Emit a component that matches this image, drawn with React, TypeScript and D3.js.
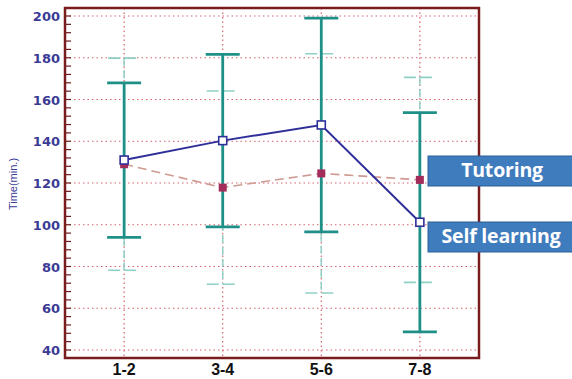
import React, { useEffect, useRef } from 'react';
import * as d3 from 'd3';

const categories = ['1-2', '3-4', '5-6', '7-8'];
const selfMean = [131, 140.3, 147.8, 101.2];
const selfSd = [37, 41.3, 51.2, 52.5];
const tutorMean = [129, 117.8, 124.6, 121.5];
const tutorSd = [50.8, 46.3, 57.3, 49.1];
const yTicks = [40, 60, 80, 100, 120, 140, 160, 180, 200];
const legendLabels = ['Tutoring', 'Self learning'];

const App = () => {
  const ref = useRef<SVGSVGElement | null>(null);

  useEffect(() => {
    if (!ref.current) return;
    const width = 572;
    const height = 379;
    const left = 65, right = 479, top = 8, bottom = 358;

    const svg = d3.select(ref.current);
    svg.selectAll('*').remove();
    svg.append('rect').attr('width', width).attr('height', height).attr('fill', '#ffffff');

    const x = d3.scalePoint<string>().domain(categories).range([left, right]).padding(0.6);
    const y = d3.scaleLinear().domain([40, 200]).range([350, 16]);

    const gridColor = '#d4636f';
    // horizontal grid
    svg.append('g')
      .selectAll('line')
      .data(yTicks)
      .enter()
      .append('line')
      .attr('x1', left).attr('x2', right)
      .attr('y1', d => y(d)).attr('y2', d => y(d))
      .attr('stroke', gridColor)
      .attr('stroke-width', 1.2)
      .attr('stroke-dasharray', '1.5,3');
    // vertical grid
    svg.append('g')
      .selectAll('line')
      .data(categories)
      .enter()
      .append('line')
      .attr('x1', d => x(d)!).attr('x2', d => x(d)!)
      .attr('y1', top).attr('y2', bottom)
      .attr('stroke', gridColor)
      .attr('stroke-width', 1.2)
      .attr('stroke-dasharray', '1.5,3');

    // minor ticks every 4 units, inward
    const minor = d3.range(40, 201, 4);
    svg.append('g')
      .selectAll('line')
      .data(minor)
      .enter()
      .append('line')
      .attr('x1', left).attr('x2', left + 6)
      .attr('y1', d => y(d)).attr('y2', d => y(d))
      .attr('stroke', '#6b1a1a')
      .attr('stroke-width', 1.2);

    // y tick labels
    svg.append('g')
      .selectAll('text')
      .data(yTicks)
      .enter()
      .append('text')
      .attr('x', 60)
      .attr('y', d => y(d) + 5)
      .attr('text-anchor', 'end')
      .style('font-family', 'DejaVu Sans, sans-serif')
      .style('font-weight', 'bold')
      .style('font-size', '13px')
      .attr('fill', '#3b3b96')
      .text(d => d);

    // x tick labels
    svg.append('g')
      .selectAll('text')
      .data(categories)
      .enter()
      .append('text')
      .attr('x', d => x(d)!)
      .attr('y', 375)
      .attr('text-anchor', 'middle')
      .style('font-family', 'Arial, Liberation Sans, sans-serif')
      .style('font-weight', 'bold')
      .style('font-size', '16px')
      .attr('fill', '#111')
      .text(d => d);

    // y title
    svg.append('text')
      .attr('transform', `translate(17, 184) rotate(-90)`)
      .attr('text-anchor', 'middle')
      .style('font-family', 'Arial, Liberation Sans, sans-serif')
      .style('font-size', '11px')
      .attr('fill', '#3b3b96')
      .text('Time(min.)');

    // tutoring error bars (light, dashed)
    const tut = categories.map((c, i) => ({ c, m: tutorMean[i], s: tutorSd[i] }));
    const slf = categories.map((c, i) => ({ c, m: selfMean[i], s: selfSd[i] }));

    const tg = svg.append('g');
    tg.selectAll('line.v')
      .data(tut)
      .enter()
      .append('line')
      .attr('x1', d => x(d.c)!).attr('x2', d => x(d.c)!)
      .attr('y1', d => y(d.m + d.s)).attr('y2', d => y(d.m - d.s))
      .attr('stroke', '#8fd0c6')
      .attr('stroke-width', 1.5)
      .attr('stroke-dasharray', '8,4');
    [1, -1].forEach(sign => {
      tg.selectAll(`line.c${sign}`)
        .data(tut)
        .enter()
        .append('line')
        .attr('x1', d => x(d.c)! - 16).attr('x2', d => x(d.c)! + 16)
        .attr('y1', d => y(d.m + sign * d.s)).attr('y2', d => y(d.m + sign * d.s))
        .attr('stroke', '#8fd0c6')
        .attr('stroke-width', 1.6)
        .attr('stroke-dasharray', '12,4');
    });

    // self learning error bars (solid teal)
    const sg = svg.append('g');
    sg.selectAll('line.v')
      .data(slf)
      .enter()
      .append('line')
      .attr('x1', d => x(d.c)!).attr('x2', d => x(d.c)!)
      .attr('y1', d => y(d.m + d.s)).attr('y2', d => y(d.m - d.s))
      .attr('stroke', '#1f9087')
      .attr('stroke-width', 2.8);
    [1, -1].forEach(sign => {
      sg.selectAll(`line.c${sign}`)
        .data(slf)
        .enter()
        .append('line')
        .attr('x1', d => x(d.c)! - 17).attr('x2', d => x(d.c)! + 17)
        .attr('y1', d => y(d.m + sign * d.s)).attr('y2', d => y(d.m + sign * d.s))
        .attr('stroke', '#1f9087')
        .attr('stroke-width', 2.8);
    });

    // tutoring line
    const line = d3.line<{ c: string; m: number }>().x(d => x(d.c)!).y(d => y(d.m));
    svg.append('path')
      .datum(tut)
      .attr('d', line)
      .attr('fill', 'none')
      .attr('stroke', '#cf9a92')
      .attr('stroke-width', 1.6)
      .attr('stroke-dasharray', '9,5');
    svg.append('g')
      .selectAll('rect')
      .data(tut)
      .enter()
      .append('rect')
      .attr('x', d => x(d.c)! - 4).attr('y', d => y(d.m) - 4)
      .attr('width', 8).attr('height', 8)
      .attr('fill', '#a32c5a');

    // self learning line
    svg.append('path')
      .datum(slf)
      .attr('d', line)
      .attr('fill', 'none')
      .attr('stroke', '#2f2f99')
      .attr('stroke-width', 2);
    svg.append('g')
      .selectAll('rect')
      .data(slf)
      .enter()
      .append('rect')
      .attr('x', d => x(d.c)! - 4).attr('y', d => y(d.m) - 4)
      .attr('width', 8).attr('height', 8)
      .attr('fill', '#ffffff')
      .attr('stroke', '#2f2f99')
      .attr('stroke-width', 1.6);

    // frame
    svg.append('rect')
      .attr('x', left).attr('y', top)
      .attr('width', right - left).attr('height', bottom - top)
      .attr('fill', 'none')
      .attr('stroke', '#7a1c1e')
      .attr('stroke-width', 2.5);

    // legend boxes
    const boxes = [
      { label: legendLabels[0], y0: 156, cx: 502 },
      { label: legendLabels[1], y0: 222, cx: 501 },
    ];
    const lg = svg.append('g');
    boxes.forEach(b => {
      lg.append('rect')
        .attr('x', 428).attr('y', b.y0)
        .attr('width', 150).attr('height', 30)
        .attr('fill', '#3f7cbd')
        .attr('stroke', '#2d5f96')
        .attr('stroke-width', 1);
      lg.append('text')
        .attr('x', b.cx)
        .attr('y', b.y0 + 21)
        .attr('text-anchor', 'middle')
        .style('font-family', 'Open Sans, Liberation Sans, sans-serif')
        .style('font-weight', 'bold')
        .style('font-size', '19.5px')
        .style('letter-spacing', '-0.2px')
        .attr('fill', '#ffffff')
        .text(b.label);
    });
  }, []);

  return (
    <div style={{ position: 'absolute', left: 0, top: 0 }}>
      <svg ref={ref} width={572} height={379} style={{ display: 'block' }} />
    </div>
  );
};

export default App;
